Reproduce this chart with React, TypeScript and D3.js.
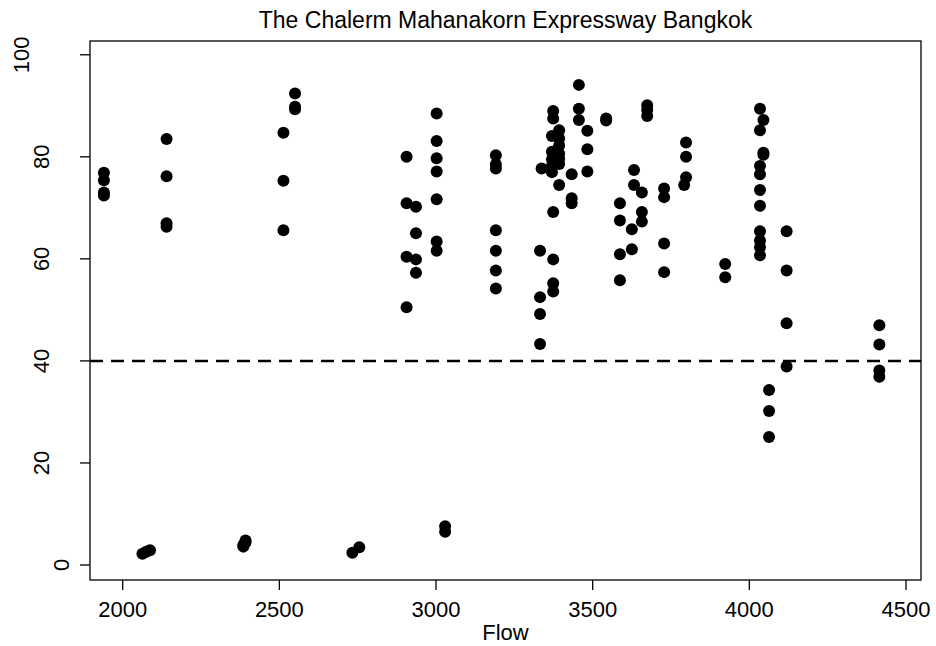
import * as d3 from "d3";

// Flow vs. speed readings
const flow = [
  1940, 1940, 1940, 1940,
  2140, 2140, 2140, 2140,
  2063, 2075, 2087,
  2385, 2385, 2392, 2392,
  2513, 2513, 2513,
  2550, 2550, 2550,
  2733, 2755,
  2906, 2906, 2906, 2906,
  2936, 2936, 2936, 2936,
  3002, 3002, 3002, 3002, 3002, 3002, 3002,
  3029, 3029,
  3191, 3191, 3191, 3191, 3191, 3191, 3191,
  3332, 3332, 3332, 3332, 3337,
  3374, 3374, 3374, 3374, 3374, 3374,
  3370, 3370, 3370, 3370, 3370,
  3393, 3393, 3393, 3393, 3393, 3393, 3393,
  3433, 3433, 3433,
  3456, 3456, 3456,
  3483, 3483, 3483,
  3543, 3543,
  3587, 3587, 3587, 3587,
  3625, 3625,
  3632, 3632,
  3657, 3657, 3657,
  3674, 3674, 3674,
  3728, 3728, 3728, 3728,
  3798, 3798, 3798, 3792,
  3923, 3923,
  4034, 4034, 4034, 4034, 4034, 4034, 4034, 4034, 4034, 4034,
  4045, 4045, 4045,
  4063, 4063, 4063,
  4119, 4119, 4119, 4119,
  4415, 4415, 4415, 4415,
];

const speed = [
  76.9, 75.4, 73.0, 72.4,
  83.5, 76.2, 67.0, 66.3,
  2.2, 2.6, 2.9,
  3.6, 3.9, 4.4, 4.8,
  84.7, 75.3, 65.6,
  92.4, 89.8, 89.3,
  2.4, 3.5,
  80.0, 70.9, 60.4, 50.5,
  70.2, 65.0, 59.9, 57.3,
  88.5, 83.1, 79.7, 77.1, 71.7, 63.4, 61.6,
  7.6, 6.5,
  80.3, 78.5, 77.7, 65.6, 61.6, 57.7, 54.2,
  61.6, 52.5, 49.2, 43.3, 77.7,
  89.0, 87.5, 69.2, 59.9, 55.2, 53.6,
  84.1, 81.0, 79.5, 78.2, 77.0,
  85.2, 83.6, 82.2, 80.6, 79.6, 78.6, 74.5,
  76.6, 71.9, 70.9,
  94.1, 89.4, 87.2,
  85.1, 81.5, 77.1,
  87.5, 87.1,
  70.9, 67.5, 60.9, 55.8,
  65.8, 61.9,
  77.4, 74.5,
  73.0, 69.2, 67.3,
  90.1, 89.2, 88.0,
  73.8, 72.1, 63.0, 57.4,
  82.8, 80.0, 76.0, 74.5,
  59.0, 56.4,
  89.4, 85.2, 78.2, 76.6, 73.5, 70.4, 65.4, 63.6, 62.3, 60.7,
  87.2, 80.8, 80.4,
  34.3, 30.2, 25.1,
  65.4, 57.7, 47.4, 38.9,
  47.0, 43.2, 38.1, 36.9,
];

const xTicks = [2000, 2500, 3000, 3500, 4000, 4500];
const yTicks = [0, 20, 40, 60, 80, 100];
const threshold = 40;

const title = "The Chalerm Mahanakorn Expressway Bangkok";
const xLabel = "Flow";

const W = 936;
const H = 646;
const plot = { left: 90, right: 921, top: 41, bottom: 580 };
const font = "'Liberation Sans', Arial, Helvetica, sans-serif";

const App = () => {
  const xScale = d3.scaleLinear().domain([1895.6, 4547.9]).range([plot.left, plot.right]);
  const yScale = d3.scaleLinear().domain([-2.94, 102.7]).range([plot.bottom, plot.top]);

  const points = flow.map((f, i) => ({ x: f, y: speed[i] }));

  return (
    <svg width={W} height={H} style={{ position: "absolute", left: 0, top: 0, background: "#fff" }}>
      <rect x={0} y={0} width={W} height={H} fill="#fff" />
      <text x={(plot.left + plot.right) / 2} y={28} textAnchor="middle" fontFamily={font} fontSize={23}>
        {title}
      </text>

      {/* points */}
      <g>
        {points.map((d, i) => (
          <circle key={i} cx={xScale(d.x)} cy={yScale(d.y)} r={6} fill="#000" />
        ))}
      </g>

      {/* reference line */}
      <line
        x1={plot.left}
        x2={plot.right}
        y1={yScale(threshold)}
        y2={yScale(threshold)}
        stroke="#000"
        strokeWidth={2.5}
        strokeDasharray="13 8"
      />

      <rect
        x={plot.left}
        y={plot.top}
        width={plot.right - plot.left}
        height={plot.bottom - plot.top}
        fill="none"
        stroke="#000"
        strokeWidth={1.3}
      />

      {/* x axis */}
      <g>
        {xTicks.map((t) => (
          <g key={t}>
            <line x1={xScale(t)} x2={xScale(t)} y1={plot.bottom} y2={plot.bottom + 10} stroke="#000" strokeWidth={1.3} />
            <text x={xScale(t)} y={617} textAnchor="middle" fontFamily={font} fontSize={22}>
              {t}
            </text>
          </g>
        ))}
        <text x={(plot.left + plot.right) / 2} y={640} textAnchor="middle" fontFamily={font} fontSize={22}>
          {xLabel}
        </text>
      </g>

      {/* y axis */}
      <g>
        {yTicks.map((t) => {
          const label = String(t);
          const cx = 82 - 20 * label.length;
          return (
            <g key={t}>
              <line x1={plot.left - 10} x2={plot.left} y1={yScale(t)} y2={yScale(t)} stroke="#000" strokeWidth={1.3} />
              <text
                x={cx}
                y={yScale(t)}
                textAnchor="middle"
                dominantBaseline="central"
                fontFamily={font}
                fontSize={22}
                transform={`rotate(-90, ${cx}, ${yScale(t)})`}
              >
                {label}
              </text>
            </g>
          );
        })}
      </g>
    </svg>
  );
};

export default App;
